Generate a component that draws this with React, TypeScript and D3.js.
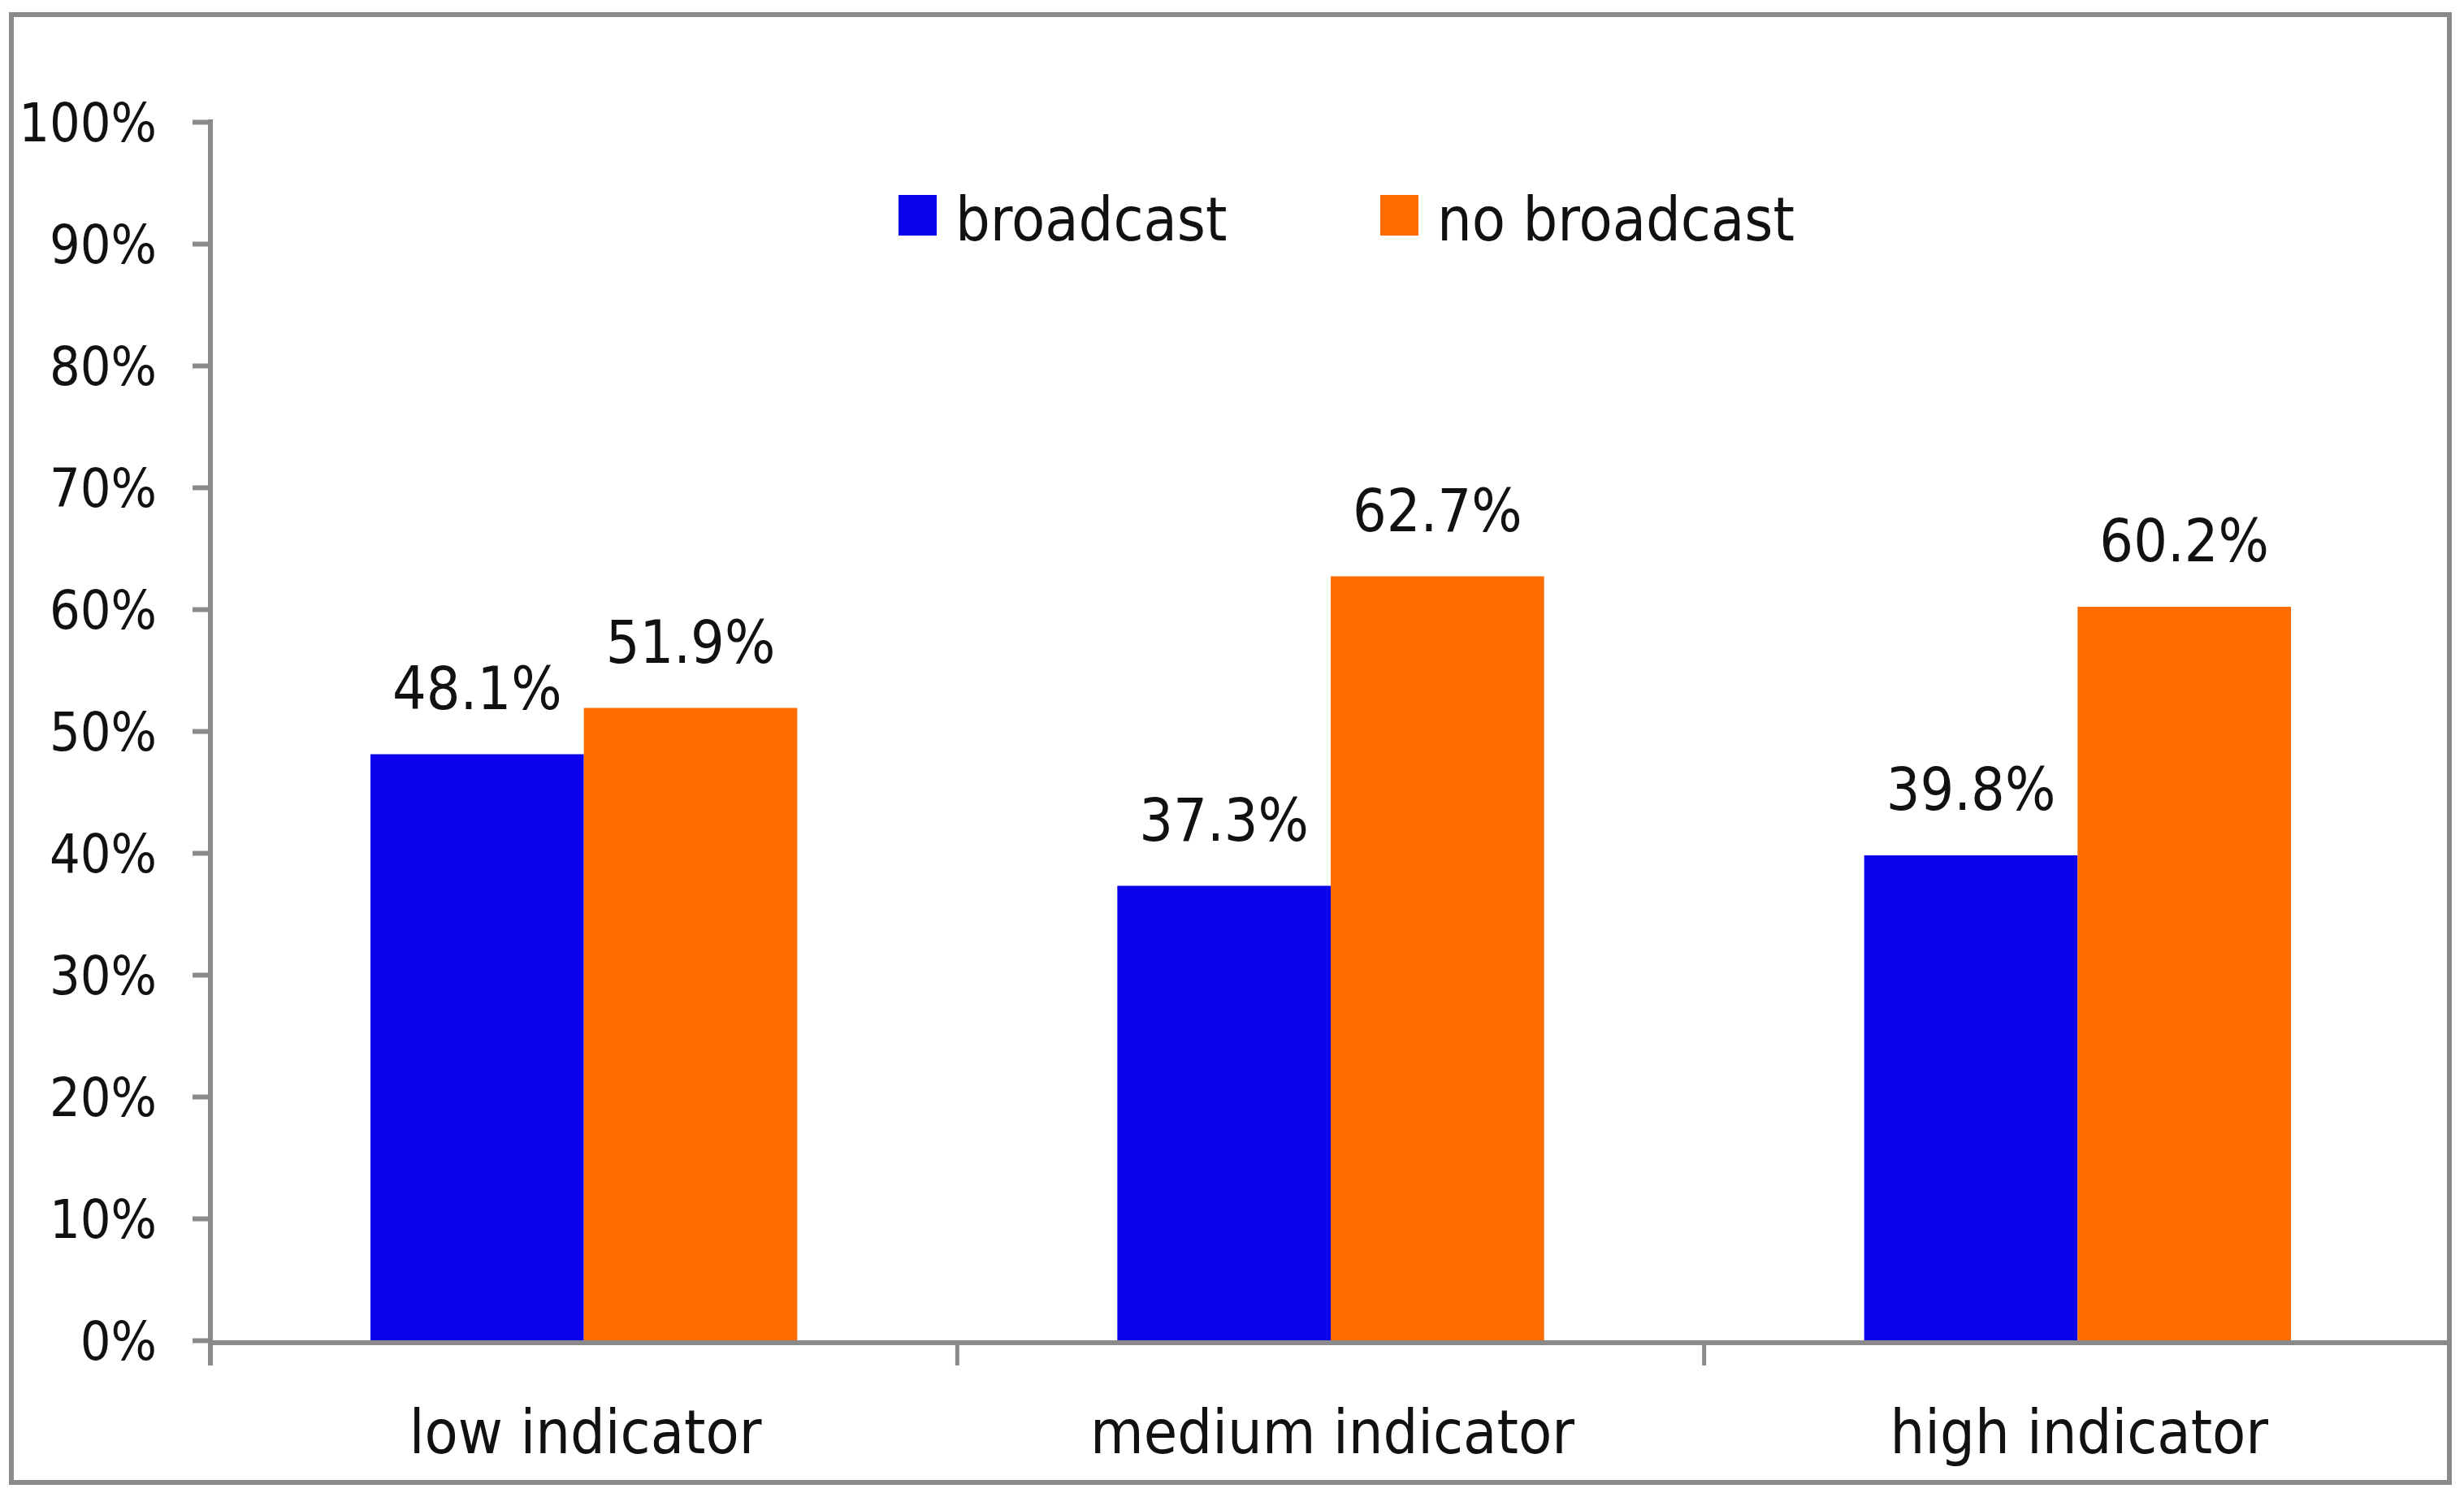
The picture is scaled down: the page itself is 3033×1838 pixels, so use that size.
import React, { useEffect, useRef } from 'react';
import * as d3 from 'd3';

const categories = ['low indicator', 'medium indicator', 'high indicator'];
const seriesNames = ['broadcast', 'no broadcast'];
const broadcast = [48.1, 37.3, 39.8];
const noBroadcast = [51.9, 62.7, 60.2];
const yTicks = [0, 10, 20, 30, 40, 50, 60, 70, 80, 90, 100];

const colors = ['#0A00EB', '#FF6D00'];
const FONT = "Tahoma, 'DejaVu Sans Condensed', 'Noto Sans', sans-serif";
const GRAY = '#8a8a8a';

const W = 3033;
const H = 1838;

export default function App() {
  const svgRef = useRef<SVGSVGElement>(null);

  useEffect(() => {
    if (!svgRef.current) return;
    const svg = d3.select(svgRef.current);
    svg.selectAll('*').remove();

    const left = 259;
    const right = 3017;
    const top = 150;
    const bottom = 1650;

    // frame
    svg
      .append('rect')
      .attr('x', 14)
      .attr('y', 18)
      .attr('width', 3015 - 14)
      .attr('height', 1825 - 18)
      .attr('fill', '#fff')
      .attr('stroke', GRAY)
      .attr('stroke-width', 6);

    const x0 = d3.scaleBand<string>().domain(categories).range([left, right]).padding(0);
    const x1 = d3
      .scaleBand<string>()
      .domain(seriesNames)
      .range([0, x0.bandwidth()])
      .paddingInner(0)
      .paddingOuter(0.75);
    const y = d3.scaleLinear().domain([0, 100]).range([bottom, top]);

    const rows = categories.map((c, i) => ({
      cat: c,
      values: [
        { key: seriesNames[0], v: broadcast[i] },
        { key: seriesNames[1], v: noBroadcast[i] },
      ],
    }));

    // bars
    const groups = svg
      .append('g')
      .selectAll('g')
      .data(rows)
      .enter()
      .append('g')
      .attr('transform', (d) => `translate(${x0(d.cat)},0)`);

    groups
      .selectAll('rect')
      .data((d) => d.values)
      .enter()
      .append('rect')
      .attr('x', (d) => x1(d.key) || 0)
      .attr('y', (d) => y(d.v))
      .attr('width', x1.bandwidth())
      .attr('height', (d) => bottom - y(d.v))
      .attr('fill', (d, i) => colors[i]);

    // value labels
    groups
      .selectAll('text')
      .data((d) => d.values)
      .enter()
      .append('text')
      .attr('x', (d) => (x1(d.key) || 0) + x1.bandwidth() / 2)
      .attr('y', (d) => y(d.v) - 56)
      .attr('text-anchor', 'middle')
      .attr('font-family', FONT)
      .attr('font-size', 73)
      .attr('fill', '#111')
      .text((d) => `${d.v.toFixed(1)}%`);

    // y axis
    const yAxis = svg
      .append('g')
      .attr('transform', `translate(${left},0)`)
      .call(
        d3
          .axisLeft(y)
          .tickValues(yTicks)
          .tickSizeInner(22)
          .tickSizeOuter(0)
          .tickPadding(44)
          .tickFormat((d) => `${d}%`)
      );
    yAxis.select('.domain').remove();
    yAxis.selectAll('line').attr('stroke', GRAY).attr('stroke-width', 6);
    yAxis
      .selectAll('text')
      .attr('font-family', FONT)
      .attr('font-size', 66)
      .attr('fill', '#111')
      .attr('dy', '0.35em');
    yAxis
      .append('line')
      .attr('x1', 0)
      .attr('x2', 0)
      .attr('y1', top - 3)
      .attr('y2', bottom + 31)
      .attr('stroke', GRAY)
      .attr('stroke-width', 6);

    // x axis
    const xAxis = svg.append('g');
    xAxis
      .append('line')
      .attr('x1', left)
      .attr('x2', right)
      .attr('y1', bottom + 3)
      .attr('y2', bottom + 3)
      .attr('stroke', GRAY)
      .attr('stroke-width', 6);
    xAxis
      .selectAll('line.tick')
      .data(categories.slice(1))
      .enter()
      .append('line')
      .attr('class', 'tick')
      .attr('x1', (d) => x0(d) || 0)
      .attr('x2', (d) => x0(d) || 0)
      .attr('y1', bottom)
      .attr('y2', bottom + 31)
      .attr('stroke', GRAY)
      .attr('stroke-width', 5);
    xAxis
      .selectAll('text')
      .data(categories)
      .enter()
      .append('text')
      .attr('x', (d) => (x0(d) || 0) + x0.bandwidth() / 2 + 2)
      .attr('y', 1789)
      .attr('text-anchor', 'middle')
      .attr('font-family', FONT)
      .attr('font-size', 75)
      .attr('fill', '#111')
      .text((d) => d);

    // legend
    const legendX = [1106, 1699];
    const legend = svg
      .append('g')
      .selectAll('g')
      .data(seriesNames)
      .enter()
      .append('g')
      .attr('transform', (d, i) => `translate(${legendX[i]},240)`);
    legend
      .append('rect')
      .attr('width', 47)
      .attr('height', 50)
      .attr('fill', (d, i) => colors[i]);
    legend
      .append('text')
      .attr('x', 70)
      .attr('y', 56)
      .attr('font-family', FONT)
      .attr('font-size', 75)
      .attr('fill', '#111')
      .text((d) => d);
  }, []);

  return (
    <svg
      ref={svgRef}
      width={W}
      height={H}
      style={{ position: 'absolute', left: 0, top: 0, background: '#fff' }}
    />
  );
}
